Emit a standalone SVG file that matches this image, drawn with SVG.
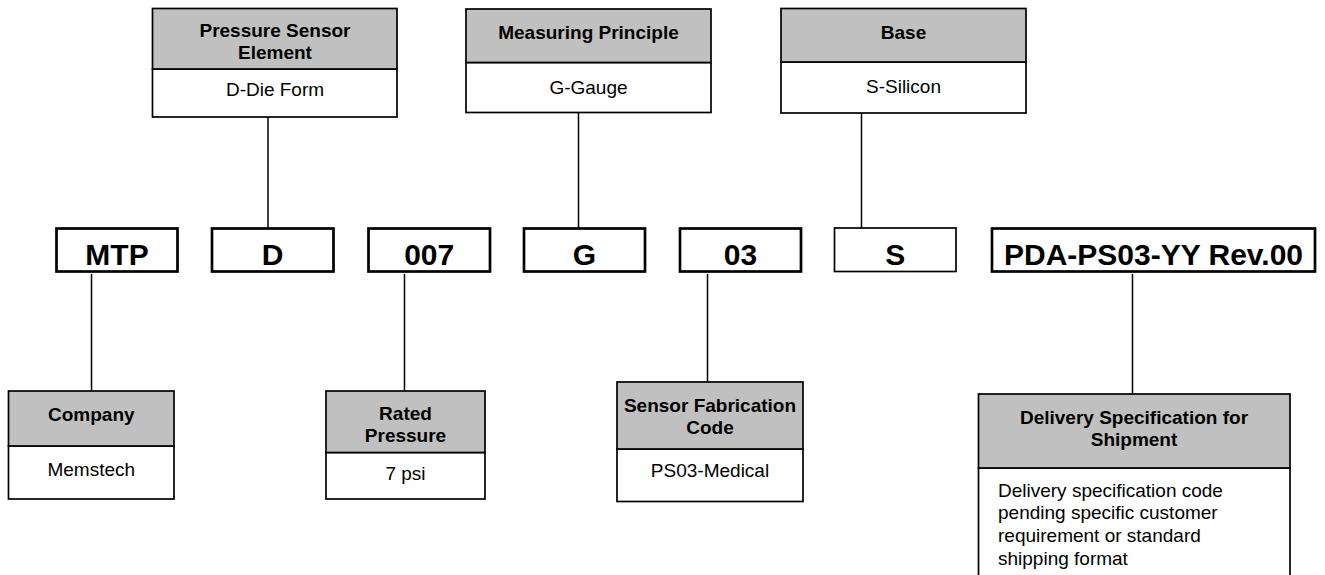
<svg xmlns="http://www.w3.org/2000/svg" width="1325" height="575" viewBox="0 0 1325 575">
<style>
text{font-family:"Liberation Sans",Arial,sans-serif;fill:#000}
.h{font-size:19px;font-weight:bold;text-anchor:middle}
.b{font-size:19px;text-anchor:middle}
.bl{font-size:19px}
.c{font-size:30px;font-weight:bold;text-anchor:middle}
.hd{fill:#c0c0c0;stroke:#000;stroke-width:1.7}
.bd{fill:#fff;stroke:#000;stroke-width:1.7}
.code{fill:#fff;stroke:#000;stroke-width:2.7}
.thin{fill:#fff;stroke:#000;stroke-width:1.7}
.ln{stroke:#000;stroke-width:1.5;fill:none}
</style>
<rect width="1325" height="575" fill="#fff"/>
<g id="connectors">
<line class="ln" x1="268" y1="117" x2="268" y2="228"/>
<line class="ln" x1="578.5" y1="112" x2="578.5" y2="228"/>
<line class="ln" x1="861.5" y1="113" x2="861.5" y2="228"/>
<line class="ln" x1="91.5" y1="274" x2="91.5" y2="391"/>
<line class="ln" x1="404.5" y1="274" x2="404.5" y2="391"/>
<line class="ln" x1="707.5" y1="274" x2="707.5" y2="382"/>
<line class="ln" x1="1132.5" y1="274" x2="1132.5" y2="394"/>
</g>
<g id="pressure-sensor-element">
<rect class="bd" x="152.5" y="69" width="244.5" height="48"/>
<rect class="hd" x="152.5" y="8.5" width="244.5" height="60.5"/>
<text class="h" x="275" y="37">Pressure Sensor</text>
<text class="h" x="275" y="59">Element</text>
<text class="b" x="275" y="96">D-Die Form</text>
</g>
<g id="measuring-principle">
<rect class="bd" x="466" y="62.5" width="245" height="50"/>
<rect class="hd" x="466" y="9" width="245" height="53.5"/>
<text class="h" x="588.5" y="38.5">Measuring Principle</text>
<text class="b" x="588.5" y="93.5">G-Gauge</text>
</g>
<g id="base">
<rect class="bd" x="781" y="62" width="245" height="51"/>
<rect class="hd" x="781" y="8.5" width="245" height="53.5"/>
<text class="h" x="903.5" y="38.5">Base</text>
<text class="b" x="903.5" y="93">S-Silicon</text>
</g>
<g id="code-mtp">
<rect class="code" x="56.5" y="228.5" width="121" height="43"/>
<text class="c" x="117" y="265">MTP</text>
</g>
<g id="code-d">
<rect class="code" x="212" y="228.5" width="121.5" height="43"/>
<text class="c" x="272.7" y="265">D</text>
</g>
<g id="code-007">
<rect class="code" x="368.5" y="228.5" width="121.5" height="43"/>
<text class="c" x="429.2" y="265">007</text>
</g>
<g id="code-g">
<rect class="code" x="524" y="228.5" width="121" height="43"/>
<text class="c" x="584.5" y="265">G</text>
</g>
<g id="code-03">
<rect class="code" x="680" y="228.5" width="121" height="43"/>
<text class="c" x="740.5" y="265">03</text>
</g>
<g id="code-s">
<rect class="thin" x="834.5" y="228" width="121.5" height="43.5"/>
<text class="c" x="895.2" y="265">S</text>
</g>
<g id="code-pda">
<rect class="code" x="992" y="228.5" width="323" height="43"/>
<text class="c" x="1153.5" y="265">PDA-PS03-YY Rev.00</text>
</g>
<g id="company">
<rect class="bd" x="8.5" y="446" width="165.5" height="53"/>
<rect class="hd" x="8.5" y="391" width="165.5" height="55"/>
<text class="h" x="91.3" y="421">Company</text>
<text class="b" x="91.3" y="476">Memstech</text>
</g>
<g id="rated-pressure">
<rect class="bd" x="326" y="452.5" width="159" height="46.5"/>
<rect class="hd" x="326" y="391" width="159" height="61.5"/>
<text class="h" x="405.5" y="420">Rated</text>
<text class="h" x="405.5" y="442">Pressure</text>
<text class="b" x="405.5" y="480">7 psi</text>
</g>
<g id="sensor-fabrication-code">
<rect class="bd" x="617" y="449" width="186" height="52.5"/>
<rect class="hd" x="617" y="382" width="186" height="67"/>
<text class="h" x="710" y="411.5">Sensor Fabrication</text>
<text class="h" x="710" y="433.5">Code</text>
<text class="b" x="710" y="477">PS03-Medical</text>
</g>
<g id="delivery-specification">
<rect class="bd" x="978.5" y="468" width="311.5" height="110"/>
<rect class="hd" x="978.5" y="394" width="311.5" height="74"/>
<text class="h" x="1134" y="423.5">Delivery Specification for</text>
<text class="h" x="1134" y="446">Shipment</text>
<text class="bl" x="998" y="497">Delivery specification code</text>
<text class="bl" x="998" y="519">pending specific customer</text>
<text class="bl" x="998" y="542">requirement or standard</text>
<text class="bl" x="998" y="565">shipping format</text>
</g>
</svg>
